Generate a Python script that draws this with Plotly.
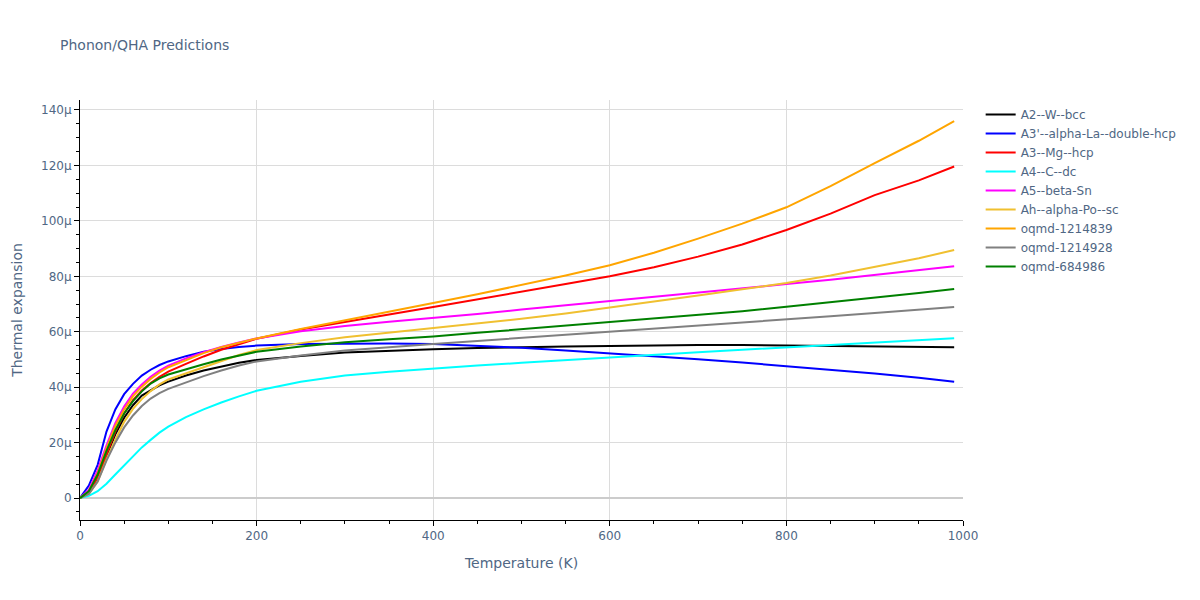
import plotly.graph_objects as go

T = [0, 10, 20, 30, 40, 50, 60, 70, 80, 90, 100, 120, 140, 160, 180, 200,
     250, 300, 350, 400, 450, 500, 550, 600, 650, 700, 750, 800, 850, 900, 950, 990]

# values in micro-units (1e-6)
a2_w_bcc = [0, 2, 7.5, 15.5, 23, 29, 33.5, 37, 39, 40.7, 42, 44.2, 46, 47.5, 48.8, 49.8,
            51.3, 52.5, 53.2, 53.7, 54.1, 54.5, 54.7, 54.9, 55.1, 55.2, 55.2, 55.0, 54.9, 54.8, 54.6, 54.4]
a3p_alpha_la = [0, 4.5, 12, 24, 32, 37.5, 41.2, 44.2, 46.3, 48, 49.3, 51.2, 52.8, 53.8, 54.5, 55.0,
                55.6, 55.8, 55.8, 55.6, 55.0, 54.2, 53.2, 52.2, 51.2, 50.1, 48.9, 47.6, 46.3, 44.9, 43.4, 42.0]
a3_mg_hcp = [0, 2, 7.5, 16, 24, 30.5, 35.3, 38.8, 41.5, 43.7, 45.6, 48.4, 51.1, 53.5, 55.6, 57.5,
             60.8, 63.6, 66.2, 68.9, 71.6, 74.5, 77.2, 80.0, 83.3, 87.1, 91.5, 96.7, 102.6, 109.3, 114.6, 119.6]
a4_c_dc = [0, 0.8, 2.5, 5.2, 8.5, 11.8, 15.2, 18.3, 21.0, 23.6, 25.8, 29.2, 32.0, 34.5, 36.7, 38.7,
           42.0, 44.2, 45.6, 46.8, 47.8, 48.8, 49.8, 50.8, 51.7, 52.6, 53.5, 54.4, 55.2, 56.1, 56.9, 57.7]
a5_beta_sn = [0, 3, 10, 19, 27, 33, 37.7, 41, 43.8, 46, 47.8, 50.4, 52.6, 54.5, 56.1, 57.6,
              60.2, 62.1, 63.6, 64.9, 66.4, 68.0, 69.5, 71.1, 72.6, 74.1, 75.6, 77.2, 78.8, 80.5, 82.1, 83.6]
ah_alpha_po = [0, 1.5, 6, 14, 21, 27.5, 32.2, 35.7, 38.6, 41, 42.8, 45, 47.4, 49.6, 51.6, 53.4,
               55.9, 58.0, 59.7, 61.2, 62.9, 64.7, 66.6, 68.7, 70.8, 73.1, 75.3, 77.6, 80.3, 83.3, 86.5, 89.5]
oqmd_1214839 = [0, 2.5, 9, 18, 26, 32, 36.8, 40.2, 43, 45.3, 47.2, 49.8, 52.3, 54.4, 56.1, 57.6,
                61.0, 64.2, 67.3, 70.4, 73.5, 76.9, 80.3, 84.0, 88.5, 93.6, 99.0, 104.9, 112.5, 120.8, 128.9, 136.0]
oqmd_1214928 = [0, 1.5, 6, 13.5, 20, 25.5, 29.8, 33.2, 35.9, 37.9, 39.4, 41.8, 44, 46, 47.8, 49.3,
                51.4, 53.2, 54.5, 55.6, 56.7, 57.8, 58.8, 59.9, 61.0, 62.1, 63.3, 64.5, 65.6, 66.8, 67.9, 68.9]
oqmd_684986 = [0, 2.5, 8.5, 17, 24.5, 30.5, 35, 38.5, 41.3, 43.2, 44.6, 46.5, 48.3, 50.0, 51.5, 52.8,
               54.7, 56.2, 57.3, 58.3, 59.6, 60.9, 62.1, 63.4, 64.7, 66.0, 67.4, 69.0, 70.6, 72.3, 74.0, 75.4]

names = ["A2--W--bcc", "A3'--alpha-La--double-hcp", "A3--Mg--hcp", "A4--C--dc",
         "A5--beta-Sn", "Ah--alpha-Po--sc", "oqmd-1214839", "oqmd-1214928", "oqmd-684986"]
colors = ["black", "blue", "red", "cyan", "magenta", "#f0c030", "orange", "gray", "green"]
series = [a2_w_bcc, a3p_alpha_la, a3_mg_hcp, a4_c_dc, a5_beta_sn, ah_alpha_po,
          oqmd_1214839, oqmd_1214928, oqmd_684986]

fig = go.Figure()
for name, color, vals in zip(names, colors, series):
    fig.add_trace(go.Scatter(x=T, y=[v * 1e-6 for v in vals], mode="lines", name=name,
                             line=dict(color=color, width=2)))

axis_common = dict(showgrid=True, gridcolor="#dcdcdc", showline=True, linecolor="black",
                   linewidth=1, ticks="outside", tickcolor="black", ticklen=5,
                   zeroline=True, zerolinecolor="#cccccc", zerolinewidth=2, automargin=False)

W, H = 1192, 592
fig.update_layout(
    template="plotly_white",
    width=W, height=H,
    font=dict(family="Verdana, DejaVu Sans, sans-serif", size=12, color="#506784"),
    margin=dict(l=72, r=237, t=92, b=80),
    title=dict(text="Phonon/QHA Predictions", x=52 / W, xanchor="left", xref="container",
               y=1 - 37 / H, yanchor="middle", font=dict(size=14)),
    legend=dict(x=1.02, y=1, xanchor="left", yanchor="top"),
    xaxis=dict(title=dict(text="Temperature (K)", font=dict(size=14)), range=[0, 1000], dtick=200,
               minor=dict(ticks="outside", dtick=50, ticklen=3, tickcolor="black", showgrid=False),
               **axis_common),
    yaxis=dict(title=dict(text="Thermal expansion", font=dict(size=14)), range=[-7.9e-6, 143.6e-6],
               dtick=20e-6,
               minor=dict(ticks="outside", dtick=5e-6, ticklen=3, tickcolor="black", showgrid=False),
               **axis_common),
)

fig.write_html("out.html")
